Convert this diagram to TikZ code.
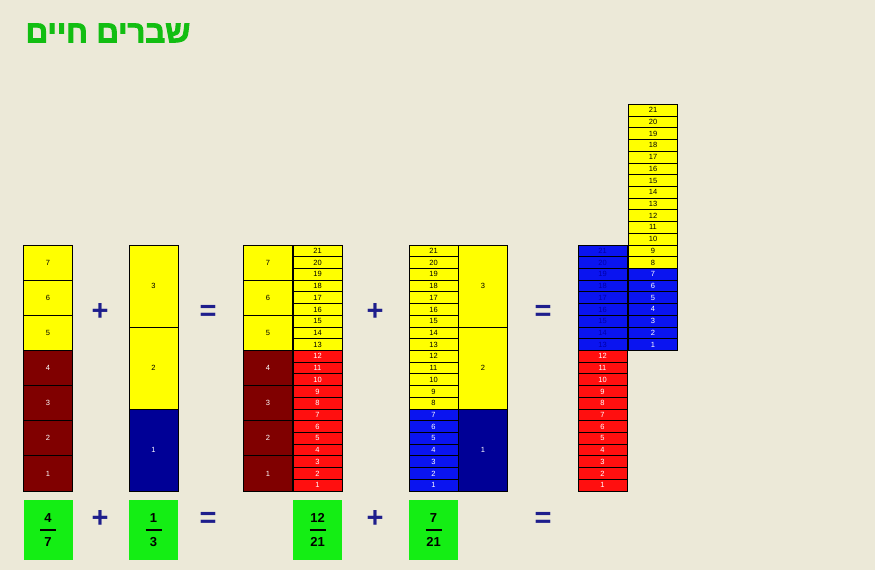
\documentclass[tikz,border=0pt]{standalone}
\usepackage{fontspec}
\setmainfont{Liberation Sans}
\newfontfamily\hebfont[Script=Hebrew, FakeBold=3]{Liberation Sans Bold}
\TeXXeTstate=1
\usetikzlibrary{positioning}

\definecolor{bgxp}{HTML}{ECE9D8}
\definecolor{barYellow}{HTML}{FFFF00}
\definecolor{barMaroon}{HTML}{800000}
\definecolor{barRed}{HTML}{FF0F0F}
\definecolor{barBlue}{HTML}{0A14F0}
\definecolor{barNavy}{HTML}{000096}
\definecolor{textNavy}{HTML}{0000A8}
\definecolor{fracGreen}{HTML}{14EE14}
\definecolor{titleGreen}{HTML}{12BE12}
\definecolor{signBlue}{HTML}{1E1E8C}

\begin{document}
\begin{tikzpicture}[x=1pt,y=-1pt]

	\tikzstyle{cell} = [rectangle, draw=black, line width=0.9pt, inner sep=0pt,
		minimum width=49pt, font=\fontsize{7.5}{8}\selectfont]
	\tikzstyle{seventh} = [cell, minimum height=35.14pt]
	\tikzstyle{third} = [cell, minimum height=82pt]
	\tikzstyle{small} = [cell, minimum height=11.71pt]
	\tikzstyle{fracbox} = [rectangle, fill=fracGreen, minimum width=49pt, minimum height=60pt, inner sep=0pt]
	\tikzstyle{fracdigit} = [inner sep=0pt, font=\fontsize{13}{13}\selectfont\bfseries]
	\tikzstyle{fracbar} = [line width=2pt]
	\tikzstyle{sign} = [inner sep=0pt, text=signBlue, font=\fontsize{29}{29}\selectfont\bfseries]

    \fill[bgxp] (0,0) rectangle (875,570);
    \useasboundingbox (0,0) rectangle (875,570);

    % Title
    \node [inner sep=0pt, text=titleGreen, font=\hebfont\fontsize{31}{31}\selectfont] (title) at (108,33) {\beginR שברים חיים\endR};

    % 4/7
    \foreach \i in {1,...,4}
        \node [seventh, fill=barMaroon, text=white] (a\i) at (48, {491-(\i-0.5)*35.14}) {\i};
    \foreach \i in {5,6,7}
        \node [seventh, fill=barYellow] (a\i) at (48, {491-(\i-0.5)*35.14}) {\i};

    % 1/3
    \node [third, fill=barNavy, text=white] (b1) at (153.5,450) {1};
    \node [third, fill=barYellow] (b2) at (153.5,368) {2};
    \node [third, fill=barYellow] (b3) at (153.5,286) {3};

    % 4/7 = 12/21
    \foreach \i in {1,...,4}
        \node [seventh, fill=barMaroon, text=white] (c\i) at (268, {491-(\i-0.5)*35.14}) {\i};
    \foreach \i in {5,6,7}
        \node [seventh, fill=barYellow] (c\i) at (268, {491-(\i-0.5)*35.14}) {\i};
    \foreach \i in {1,...,12}
        \node [small, fill=barRed, text=white] (cs\i) at (317.5, {491-(\i-0.5)*11.714}) {\i};
    \foreach \i in {13,...,21}
        \node [small, fill=barYellow] (cs\i) at (317.5, {491-(\i-0.5)*11.714}) {\i};

    % 1/3 = 7/21
    \foreach \i in {1,...,7}
        \node [small, fill=barBlue, text=white] (ds\i) at (433.5, {491-(\i-0.5)*11.714}) {\i};
    \foreach \i in {8,...,21}
        \node [small, fill=barYellow] (ds\i) at (433.5, {491-(\i-0.5)*11.714}) {\i};
    \node [third, fill=barNavy, text=white] (d1) at (483,450) {1};
    \node [third, fill=barYellow] (d2) at (483,368) {2};
    \node [third, fill=barYellow] (d3) at (483,286) {3};

    % Result
    \foreach \i in {1,...,12}
        \node [small, fill=barRed, text=white] (r\i) at (602.5, {491-(\i-0.5)*11.714}) {\i};
    \foreach \i in {13,...,21}
        \node [small, fill=barBlue, text=textNavy] (r\i) at (602.5, {491-(\i-0.5)*11.714}) {\i};
    \foreach \i in {1,...,7}
        \node [small, fill=barBlue, text=white] (q\i) at (653, {350.4-(\i-0.5)*11.714}) {\i};
    \foreach \i in {8,...,21}
        \node [small, fill=barYellow] (q\i) at (653, {350.4-(\i-0.5)*11.714}) {\i};

    % Signs
    \node [sign] (plusA) at (100,312) {+};
    \node [sign] (eqA) at (208,313) {=};
    \node [sign] (plusB) at (375,312) {+};
    \node [sign] (eqB) at (543,313) {=};
    \node [sign] (plusC) at (100,519) {+};
    \node [sign] (eqC) at (208,520) {=};
    \node [sign] (plusD) at (375,519) {+};
    \node [sign] (eqD) at (543,520) {=};

    % Fractions
    \foreach \n/\x/\p/\q in {fa/48/4/7, fb/153.5/1/3, fc/317.5/12/21, fd/433.5/7/21} {
        \node [fracbox] (\n) at (\x,530) {};
        \node [fracdigit] (\n-num) at ([yshift=12pt]\n.center) {\p};
        \node [fracdigit] (\n-den) at ([yshift=-12pt]\n.center) {\q};
        \draw [fracbar] ([xshift=-8pt]\n.center) -- ([xshift=8pt]\n.center);
    }
\end{tikzpicture}
\end{document}
